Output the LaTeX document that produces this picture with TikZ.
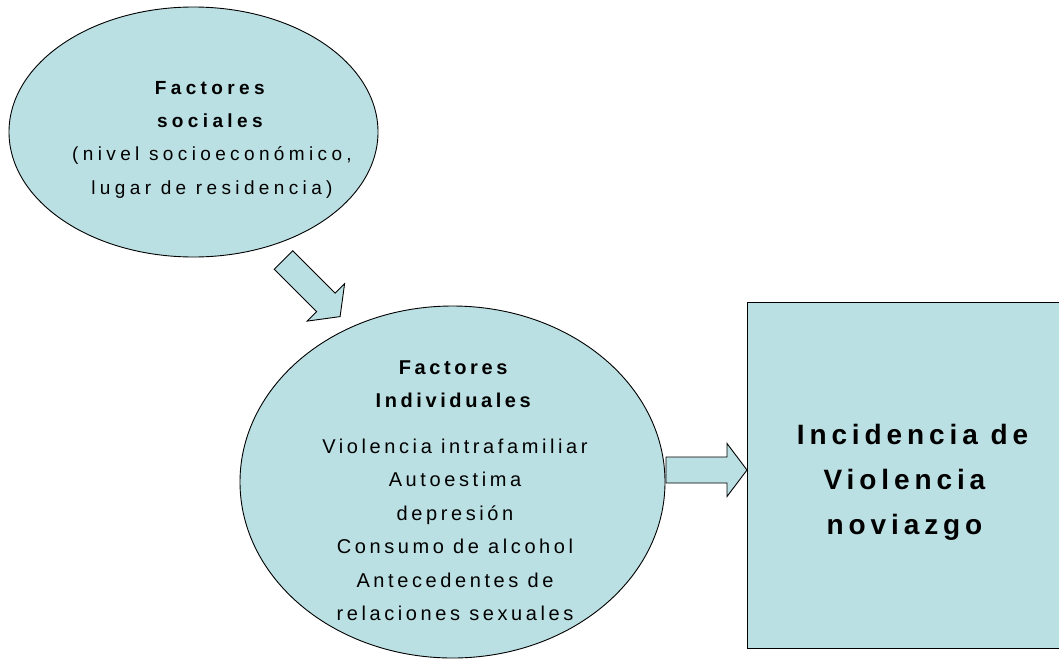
\documentclass[tikz,border=0pt]{standalone}
\usepackage{fontspec}
\setmainfont{Liberation Sans}
\newfontfamily\socfont[LetterSpace=23]{Liberation Sans}
\newfontfamily\indfont[LetterSpace=18]{Liberation Sans}
\newfontfamily\boxfont[LetterSpace=17.5]{Liberation Sans}
\definecolor{fillblue}{HTML}{BBE0E3}
\usetikzlibrary{shapes.geometric}
\begin{document}
\begin{tikzpicture}[x=1pt,y=-1pt,
  shapebox/.style={draw=black, line width=0.9pt, fill=fillblue, inner sep=0pt},
  blockarrow/.style={draw=black, line width=0.9pt, fill=fillblue, line join=miter},
  soctext/.style={align=center, inner sep=0pt, font=\socfont\fontsize{19}{33.3}\selectfont},
  indtext/.style={align=center, inner sep=0pt, font=\indfont\fontsize{20}{33.5}\selectfont},
  boxtext/.style={align=center, inner sep=0pt, font=\boxfont\fontsize{28}{45}\selectfont\bfseries}]
\useasboundingbox (0,0) rectangle (1059,664);
\clip (0,0) rectangle (1059,664);
% shapes
\node[shapebox, ellipse, minimum width=369pt, minimum height=250pt] (soc) at (193.5,132) {};
\node[shapebox, ellipse, minimum width=425pt, minimum height=352pt] (ind) at (452.5,482) {};
\node[shapebox, rectangle, minimum width=340pt, minimum height=346pt] (inc) at (917,475) {};
% texts
\node[soctext] (soct) at (212,139.5) {\textbf{Factores}\\\textbf{sociales}\\(nivel socioeconómico,\\lugar de residencia)};
\node[indtext] (indt) at (455,490.5) {\textbf{Factores}\\\textbf{Individuales}\\[12pt]Violencia intrafamiliar\\Autoestima\\depresión\\Consumo de alcohol\\Antecedentes de\\relaciones sexuales};
\node[boxtext] (inct) at (912.5,482) {Incidencia de\\Violencia\rule{16pt}{0pt}\\noviazgo\rule{16pt}{0pt}};
% block arrows
\draw[blockarrow] (292.7,250.8) -- (335.1,293.2) -- (344.6,283.7) -- (340.1,316.6)
  -- (307.2,321.1) -- (316.7,311.6) -- (274.3,269.2) -- cycle;
\draw[blockarrow] (666,457) -- (727,457) -- (727,443.5) -- (747,470) -- (727,496.5)
  -- (727,483) -- (666,483) -- cycle;
\end{tikzpicture}
\end{document}
